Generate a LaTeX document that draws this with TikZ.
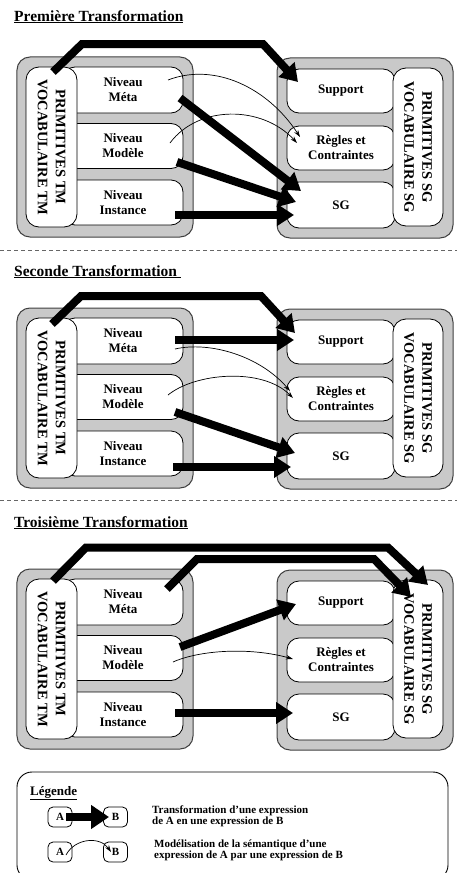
\documentclass[tikz,border=0pt]{standalone}
\usepackage{fontspec}
\setmainfont{Liberation Serif}
\usetikzlibrary{arrows.meta}

\tikzset{
  x=1bp, y=-1bp,
  panelbg/.style={draw=black!75, fill=black!21, line width=1bp, rounded corners=13bp, inner sep=0pt},
  whitebox/.style={draw=black, fill=white, line width=0.8bp, rounded corners=12bp, inner sep=0pt,
    align=center, font=\fontsize{13bp}{15bp}\selectfont\bfseries},
  primbox/.style={whitebox, rotate=-90, rounded corners=13bp,
    font=\fontsize{14.5bp}{18bp}\selectfont\bfseries},
  transfo/.style={line width=8bp, draw=black, line join=miter,
    -{Triangle[length=17bp,width=21bp]}},
  modelise/.style={line width=0.7bp, draw=black, -{Stealth[length=7bp,width=4.5bp]}},
  titre/.style={anchor=base west, inner sep=0pt, font=\fontsize{15.5bp}{17bp}\selectfont\bfseries},
  separateur/.style={draw=black!60, line width=0.9bp, dash pattern=on 4bp off 3bp},
  petitbox/.style={draw=black, fill=white, line width=0.8bp, rounded corners=5bp, inner sep=0pt,
    minimum width=24bp, minimum height=20bp, font=\fontsize{11bp}{13bp}\selectfont\bfseries},
  legtexte/.style={anchor=west, inner sep=0pt, align=left,
    font=\fontsize{11bp}{11bp}\selectfont\bfseries},
}

% the two grey blocks of one transformation: TM on the left, SG on the right
\newcommand\dessinerblocs[1]{%
  \node[panelbg, minimum width=176bp, minimum height=180bp] (#1-gauche) at (105,147) {};
  \node[panelbg, minimum width=176bp, minimum height=180bp] (#1-droite) at (365,148) {};
  \node[whitebox, minimum width=120bp, minimum height=46bp] (#1-meta) at (123,90) {Niveau\\Méta};
  \node[whitebox, minimum width=120bp, minimum height=45bp] (#1-modele) at (123,146) {Niveau\\Modèle};
  \node[whitebox, minimum width=120bp, minimum height=45bp] (#1-instance) at (123,202.5) {Niveau\\Instance};
  \node[primbox, minimum width=160bp, minimum height=51bp] (#1-primtm) at (51.5,147)
    {PRIMITIVES TM\\VOCABULAIRE TM};
  \node[whitebox, minimum width=108bp, minimum height=44bp] (#1-support) at (341,91) {Support};
  \node[whitebox, minimum width=108bp, minimum height=44bp] (#1-regles) at (341,148) {Règles et\\Contraintes};
  \node[whitebox, minimum width=108bp, minimum height=46bp] (#1-sg) at (341,205) {SG};
  \node[primbox, minimum width=158bp, minimum height=50bp] (#1-primsg) at (418,147)
    {PRIMITIVES SG\\VOCABULAIRE SG};
}

\begin{document}
\begin{tikzpicture}
\clip (0,0) rectangle (457,873);
\fill[white] (0,0) rectangle (457,873);

% ---------- Première transformation ----------
\node[titre] (t1) at (14,21) {\underline{Première Transformation}};
\begin{scope}
  \dessinerblocs{a}
  \coordinate (a-d0) at (53,72);  \coordinate (a-d1) at (82,44);
  \coordinate (a-d2) at (263,44); \coordinate (a-d3) at (298,82);
  \coordinate (a-m1) at (168,80);  \coordinate (a-r1) at (300,137);
  \coordinate (a-m2) at (170,143); \coordinate (a-r2) at (297,143);
  \coordinate (a-t1) at (180,98);  \coordinate (a-s1) at (301,191);
  \coordinate (a-t2) at (177,162); \coordinate (a-s2) at (296,202);
  \coordinate (a-t3) at (175,215); \coordinate (a-s3) at (294,215);
  \draw[modelise] (a-m1) .. controls (215,62) and (268,88) .. (a-r1);
  \draw[modelise] (a-m2) .. controls (198,105) and (262,105) .. (a-r2);
  \draw[transfo] (a-d0) -- (a-d1) -- (a-d2) -- (a-d3);
  \draw[transfo] (a-t1) -- (a-s1);
  \draw[transfo] (a-t2) -- (a-s2);
  \draw[transfo] (a-t3) -- (a-s3);
\end{scope}

\coordinate (sep1a) at (0,250); \coordinate (sep1b) at (457,250);
\draw[separateur] (sep1a) -- (sep1b);

% ---------- Seconde transformation ----------
\node[titre] (t2) at (14,276) {\underline{Seconde Transformation\ }};
\begin{scope}[shift={(0,251)}]
  \dessinerblocs{b}
  \coordinate (b-d0) at (52,73);  \coordinate (b-d1) at (81,45);
  \coordinate (b-d2) at (261,45); \coordinate (b-d3) at (295,82);
  \coordinate (b-m1) at (175,98);  \coordinate (b-r1) at (290,140);
  \coordinate (b-m2) at (168,144); \coordinate (b-r2) at (293,147);
  \coordinate (b-t1) at (175,89);  \coordinate (b-s1) at (294,89);
  \coordinate (b-t2) at (175,161); \coordinate (b-s2) at (295,202);
  \coordinate (b-t3) at (173,216); \coordinate (b-s3) at (291,216);
  \draw[modelise] (b-m1) .. controls (210,90) and (260,105) .. (b-r1);
  \draw[modelise] (b-m2) .. controls (195,122) and (262,116) .. (b-r2);
  \draw[transfo] (b-d0) -- (b-d1) -- (b-d2) -- (b-d3);
  \draw[transfo] (b-t1) -- (b-s1);
  \draw[transfo] (b-t2) -- (b-s2);
  \draw[transfo] (b-t3) -- (b-s3);
\end{scope}

\coordinate (sep2a) at (0,500); \coordinate (sep2b) at (457,500);
\draw[separateur] (sep2a) -- (sep2b);

% ---------- Troisième transformation ----------
\node[titre] (t3) at (14,527) {\underline{Troisième Transformation}};
\begin{scope}[shift={(0,512)}]
  \dessinerblocs{c}
  \coordinate (c-d0) at (53,69);    \coordinate (c-d1) at (86,35.5);
  \coordinate (c-d2) at (388,35.5); \coordinate (c-d3) at (428,73);
  \coordinate (c-e0) at (167,77);   \coordinate (c-e1) at (197,47);
  \coordinate (c-e2) at (374,47);   \coordinate (c-e3) at (411,85);
  \coordinate (c-m2) at (173,150); \coordinate (c-r2) at (293,147);
  \coordinate (c-t1) at (180,135); \coordinate (c-s1) at (296,92);
  \coordinate (c-t3) at (175,201); \coordinate (c-s3) at (293,201);
  \draw[modelise] (c-m2) .. controls (200,138) and (250,135) .. (c-r2);
  \draw[transfo] (c-d0) -- (c-d1) -- (c-d2) -- (c-d3);
  \draw[transfo] (c-e0) -- (c-e1) -- (c-e2) -- (c-e3);
  \draw[transfo] (c-t1) -- (c-s1);
  \draw[transfo] (c-t3) -- (c-s3);
\end{scope}

% ---------- Légende ----------
\node[draw=black, line width=0.9bp, rounded corners=15bp, minimum width=431bp, minimum height=108bp,
  inner sep=0pt] (legende) at (232.5,826) {};
\node[titre, font=\fontsize{13bp}{15bp}\selectfont\bfseries] (legtitre) at (30,795) {\underline{Légende}};
\node[petitbox] (la1) at (60,817) {A\hspace{2bp}};
\node[petitbox] (lb1) at (115.5,817) {B};
\node[petitbox] (la2) at (60,852) {A};
\node[petitbox] (lb2) at (115.5,852) {B};
\coordinate (l-t0) at (66,817); \coordinate (l-t1) at (109,817);
\coordinate (l-m0) at (66,855); \coordinate (l-m1) at (111,852);
\draw[transfo, -{Triangle[length=18bp,width=23bp]}] (l-t0) -- (l-t1);
\draw[modelise] (l-m0) .. controls (75,838) and (100,836) .. (l-m1);
\node[legtexte] (leg1) at (152,816.5) {Transformation d’une expression\\de A en une expression de B};
\node[legtexte] (leg2) at (154,850) {Modélisation de la sémantique d’une\\expression de A par une expression de B};
\end{tikzpicture}
\end{document}
